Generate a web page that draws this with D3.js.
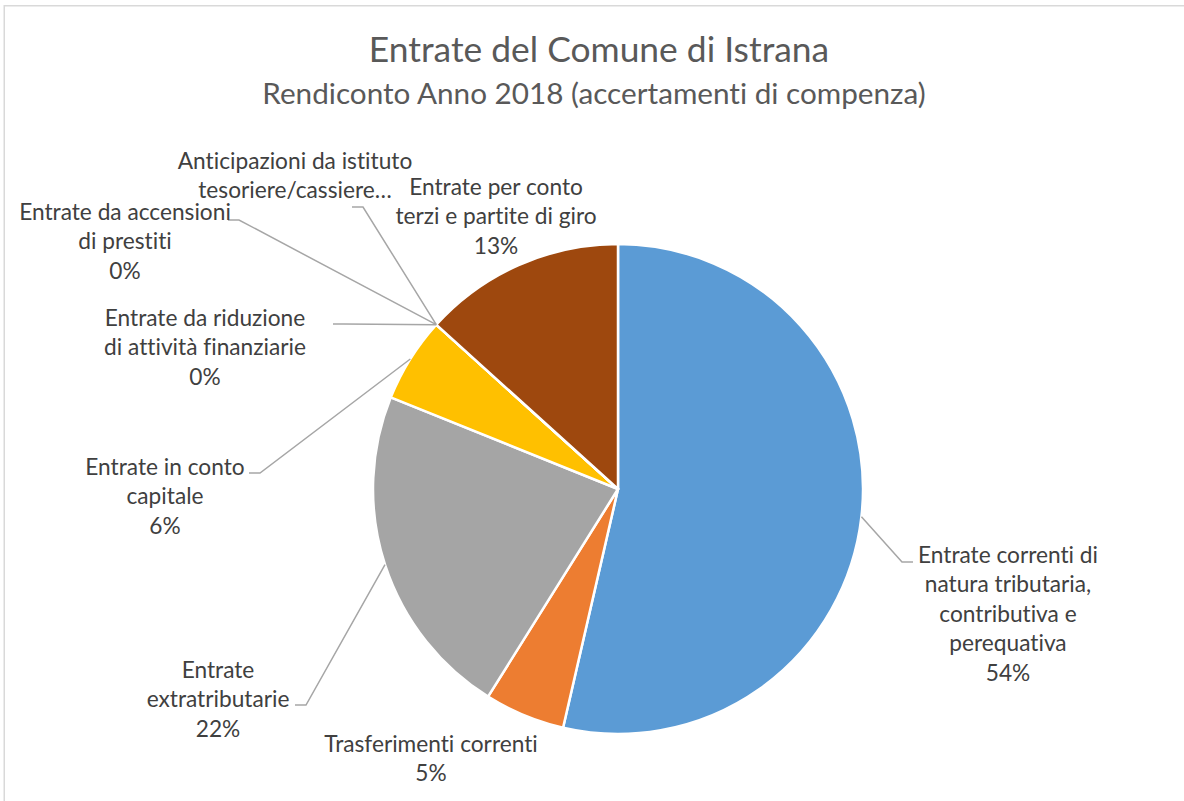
<!DOCTYPE html>
<html>
<head>
<meta charset="utf-8">
<script src="https://cdn.jsdelivr.net/npm/d3@7"></script>
<style>
  body { margin: 0; background: #fff; }
  svg { display: block; }
  text { font-variant-ligatures: none; }
</style>
</head>
<body>
<div id="chart"></div>
<script>
// Data (percent shares)
const categories = [
    "Entrate correnti di natura tributaria, contributiva e perequativa",
    "Trasferimenti correnti",
    "Entrate extratributarie",
    "Entrate in conto capitale",
    "Entrate da riduzione di attività finanziarie",
    "Entrate da accensioni di prestiti",
    "Anticipazioni da istituto tesoriere/cassiere",
    "Entrate per conto terzi e partite di giro"
];
const values = [53.6, 5.3, 22.2, 5.6, 0, 0, 0, 13.3];
const labelLines = [
    ["Entrate correnti di", "natura tributaria,", "contributiva e", "perequativa"],
    ["Trasferimenti correnti"],
    ["Entrate", "extratributarie"],
    ["Entrate in conto", "capitale"],
    ["Entrate da riduzione", "di attività finanziarie"],
    ["Entrate da accensioni", "di prestiti"],
    ["Anticipazioni da istituto", "tesoriere/cassiere…"],
    ["Entrate per conto", "terzi e partite di giro"]
];
const colors = ["#5B9BD5", "#ED7D31", "#A5A5A5", "#FFC000", "#4472C4", "#70AD47", "#264478", "#9E480E"];

// Label placement (centre of first line) and leader-line attach point
const labelLayout = [
    { x: 1008, y: 555, anchor: [913, 562], dir: -1 },
    { x: 431, y: 744, anchor: null },
    { x: 218, y: 670, anchor: [295, 705], dir: 1 },
    { x: 165, y: 467, anchor: [249, 473], dir: 1 },
    { x: 205, y: 318, anchor: [333, 324], dir: 1 },
    { x: 125, y: 212, anchor: [228, 220], dir: 1 },
    { x: 295, y: 161, anchor: [352, 207], dir: 1 },
    { x: 496, y: 187, anchor: null }
];

const width = 1184, height = 801;
const cx = 618, cy = 489, radius = 245;
const lineH = 29.5;
const fontFamily = "Lato, 'Open Sans', sans-serif";

const svg = d3.select("#chart")
    .append("svg")
    .attr("width", width)
    .attr("height", height);

// Chart frame
svg.append("rect")
    .attr("x", 4.25)
    .attr("y", 5.75)
    .attr("width", width + 50)
    .attr("height", height + 50)
    .attr("fill", "#fff")
    .attr("stroke", "#d9d9d9")
    .attr("stroke-width", 1.5);

// Titles
svg.append("text")
    .attr("x", 599)
    .attr("y", 62)
    .attr("text-anchor", "middle")
    .style("font-family", fontFamily)
    .style("font-size", "35.4px")
    .style("fill", "#595959")
    .text("Entrate del Comune di Istrana");

svg.append("text")
    .attr("x", 594)
    .attr("y", 104)
    .attr("text-anchor", "middle")
    .style("font-family", fontFamily)
    .style("font-size", "29.7px")
    .style("fill", "#595959")
    .text("Rendiconto Anno 2018 (accertamenti di compenza)");

const pie = d3.pie().sort(null).value(d => d);
const arcs = pie(values);
const total = d3.sum(values);

const arc = d3.arc().innerRadius(0).outerRadius(radius);
const edgeArc = d3.arc().innerRadius(radius).outerRadius(radius);

const g = svg.append("g").attr("transform", `translate(${cx},${cy})`);

// Slices
g.selectAll(".slice")
    .data(arcs)
    .enter()
    .append("path")
    .attr("class", "slice")
    .attr("d", arc)
    .attr("fill", (d, i) => colors[i])
    .attr("stroke", "#fff")
    .attr("stroke-width", 2.5)
    .attr("stroke-linejoin", "round");

// Leader lines
arcs.forEach((d, i) => {
    const lay = labelLayout[i];
    if (!lay.anchor) return;
    const [sx, sy] = edgeArc.centroid(d);
    const start = [cx + sx, cy + sy];
    const elbow = [lay.anchor[0] + 11 * lay.dir, lay.anchor[1]];
    svg.append("path")
        .attr("d", d3.line()([start, elbow, lay.anchor]))
        .attr("fill", "none")
        .attr("stroke", "#a6a6a6")
        .attr("stroke-width", 1.5);
});

// Data labels
const pct = d3.format(".0%");
arcs.forEach((d, i) => {
    const lay = labelLayout[i];
    const lines = labelLines[i].slice();
    // truncated labels don't show the percentage line
    if (!lines[lines.length - 1].endsWith("…")) lines.push(pct(d.data / total));
    const t = svg.append("text")
        .attr("text-anchor", "middle")
        .style("font-family", fontFamily)
        .style("font-size", "22.7px")
        .style("fill", "#404040");
    lines.forEach((ln, k) => {
        t.append("tspan")
            .attr("x", lay.x)
            .attr("y", lay.y + k * lineH)
            .attr("dy", "0.35em")
            .text(ln);
    });
});
</script>
</body>
</html>
